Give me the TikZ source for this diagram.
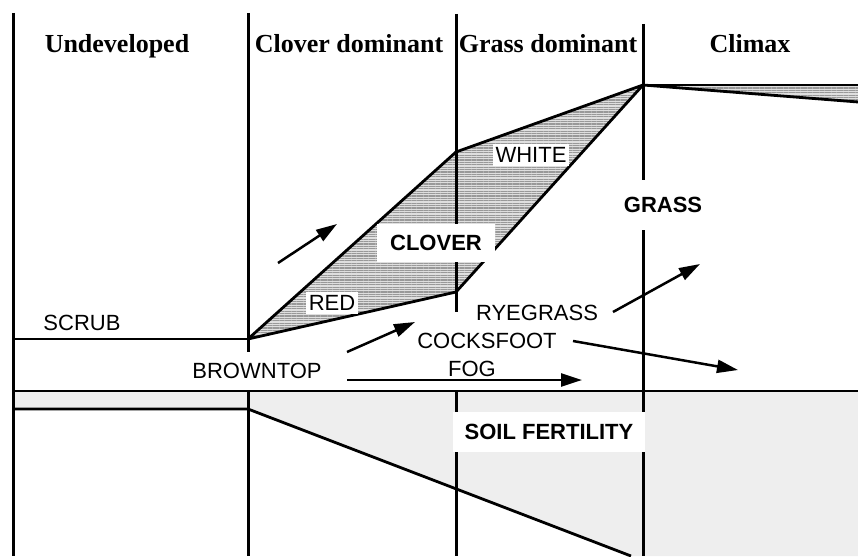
\documentclass[tikz,border=0pt]{standalone}
\usepackage{fontspec}
\setmainfont{Liberation Serif}
\setsansfont{Liberation Sans}
\usetikzlibrary{arrows.meta,patterns.meta}
\begin{document}
\begin{tikzpicture}[x=1pt,y=-1pt,
  frame/.style={line width=3pt},
  edge/.style={line width=2.8pt, line join=round},
  head/.style={font=\bfseries\fontsize{26}{28}\selectfont, anchor=base, inner sep=0pt},
  lab/.style={font=\sffamily\fontsize{22}{24}\selectfont, inner sep=1pt},
  blab/.style={font=\sffamily\bfseries\fontsize{22}{24}\selectfont, inner sep=1pt},
  whitebox/.style={fill=white},
  arr/.style={line width=2.5pt, -{Triangle[length=21pt,width=13pt]}},
  hatch/.style={fill=gray!25, pattern={Lines[distance=2.4pt, line width=1.2pt]}, pattern color=gray!80},
  soil/.style={fill=gray!13}]
\useasboundingbox[fill=white] (0,0) rectangle (858,556);

% fills
\fill[soil] (13,391) rectangle (858,409);
\fill[soil] (248,409) -- (631,556) -- (858,556) -- (858,409) -- cycle;
\fill[gray!25] (248,339) -- (456,152) -- (643,85) -- (456,292) -- cycle;
\fill[hatch] (248,339) -- (456,152) -- (643,85) -- (456,292) -- cycle;
\fill[gray!25] (643,85) -- (858,85) -- (858,102) -- cycle;
\fill[hatch] (643,85) -- (858,85) -- (858,102) -- cycle;

% frame lines
\draw[frame] (13,13) -- (13,556);
\draw[frame] (248,13) -- (248,352);
\draw[frame] (248,391) -- (248,556);
\draw[frame] (456,14) -- (456,312);
\draw[frame] (456,391) -- (456,556);
\draw[frame] (643,24) -- (643,556);
\draw[edge] (13,339) -- (248,339);
\draw[edge] (13,391) -- (858,391);
\draw[edge] (13,409) -- (248,409) -- (631,556);

% clover and climax wedge outlines
\draw[edge] (248,339) -- (456,152) -- (643,85) -- (456,292) -- cycle;
\draw[edge] (643,85) -- (858,85);
\draw[edge] (643,85) -- (858,102);

% headers
\node[head] (undev) at (117,53) {Undeveloped};
\node[head] (clovdom) at (349,53) {Clover dominant};
\node[head] (grassdom) at (548,53) {Grass dominant};
\node[head] (climax) at (750,53) {Climax};

% boxed labels
\node[blab, whitebox, minimum width=118pt, minimum height=38pt] (clover) at (436,243) {CLOVER};
\node[lab, whitebox, inner sep=3pt] (red) at (332,303) {RED};
\node[lab, whitebox, inner sep=3pt] (white) at (531,155) {WHITE};
\node[blab, whitebox, minimum width=90pt, minimum height=50pt] (grass) at (663,205) {GRASS};
\node[blab, whitebox, minimum width=192pt, minimum height=40pt] (soilfert) at (549,432) {SOIL FERTILITY};

% plain labels
\node[lab] (scrub) at (82,323) {SCRUB};
\node[lab] (browntop) at (257,371) {BROWNTOP};
\node[lab] (ryegrass) at (537,313) {RYEGRASS};
\node[lab] (cocksfoot) at (487,341) {COCKSFOOT};
\node[lab] (fog) at (472,369) {FOG};

% arrows
\coordinate (a1s) at (278,263); \coordinate (a1e) at (337,224);
\coordinate (a2s) at (347,352); \coordinate (a2e) at (415,322);
\coordinate (a3s) at (347,380); \coordinate (a3e) at (582,380);
\coordinate (a4s) at (613,312); \coordinate (a4e) at (700,264);
\coordinate (a5s) at (573,341); \coordinate (a5e) at (738,370);
\draw[arr] (a1s) -- (a1e);
\draw[arr] (a2s) -- (a2e);
\draw[arr] (a3s) -- (a3e);
\draw[arr] (a4s) -- (a4e);
\draw[arr] (a5s) -- (a5e);
\end{tikzpicture}
\end{document}
